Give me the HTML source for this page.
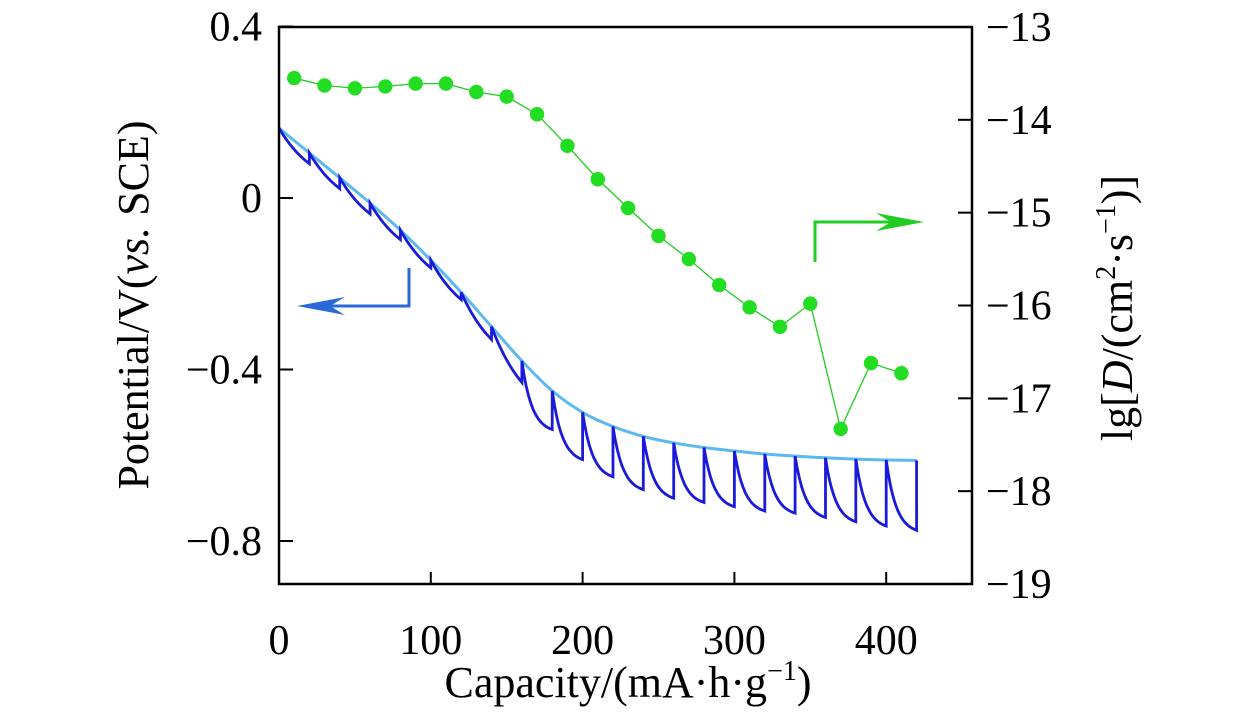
<!DOCTYPE html>
<html><head><meta charset="utf-8"><style>
html,body{margin:0;padding:0;background:#fff;}
svg text{font-family:"Liberation Serif",serif;fill:#000;}
</style></head><body>
<svg width="1260" height="709" viewBox="0 0 1260 709" xmlns="http://www.w3.org/2000/svg">
<g id="plot"></g>
</svg>
<script>
const capX = [10,30,50,70,90,110,130,150,170,190,210,230,250,270,290,310,330,350,370,390,410];
const logD = [-13.55,-13.63,-13.66,-13.64,-13.61,-13.61,-13.70,-13.75,-13.94,-14.28,-14.64,-14.95,-15.25,-15.50,-15.78,-16.02,-16.23,-15.98,-17.33,-16.62,-16.73];
const eqX = [0,20,40,60,80,100,120,140,160,180,200,220,240,260,280,300,320,340,360,380,400,420];
const eqV = [0.163,0.105,0.047,-0.012,-0.075,-0.145,-0.22,-0.30,-0.38,-0.45,-0.50,-0.533,-0.556,-0.571,-0.582,-0.59,-0.597,-0.602,-0.606,-0.609,-0.611,-0.612];
const minV = [null,0.08,0.022,-0.037,-0.097,-0.163,-0.237,-0.33,-0.43,-0.54,-0.61,-0.65,-0.68,-0.70,-0.71,-0.72,-0.73,-0.735,-0.745,-0.755,-0.765,-0.775];
const xTicks = [0,100,200,300,400];
const yLTicks = [0.4,0,-0.4,-0.8];
const yRTicks = [-13,-14,-15,-16,-17,-18,-19];

const L=279,R=972,T=27,B=584;
const X = v => L + v*1.518;
const YL = v => 198 - v*428.75;
const YR = v => T + (-13 - v)*92.83;
const NS="http://www.w3.org/2000/svg";
const g=document.getElementById('plot');
function mk(tag,attrs,name,parent){const e=document.createElementNS(NS,tag);for(const k in attrs)e.setAttribute(k,attrs[k]);


(parent||g).appendChild(e);return e;}
function txt(x,y,s,anchor,name,size,extra){const t=mk('text',Object.assign({x:x,y:y,'font-size':size,'text-anchor':anchor},extra||{}),name);t.textContent=s;return t;}

const pts=eqX.map((x,i)=>[X(x),YL(eqV[i])]);
let d='M'+pts[0][0]+' '+pts[0][1];
for(let i=0;i<pts.length-1;i++){const p0=pts[Math.max(0,i-1)],p1=pts[i],p2=pts[i+1],p3=pts[Math.min(pts.length-1,i+2)];
 d+='C'+(p1[0]+(p2[0]-p0[0])/6).toFixed(1)+' '+(p1[1]+(p2[1]-p0[1])/6).toFixed(1)+' '+(p2[0]-(p3[0]-p1[0])/6).toFixed(1)+' '+(p2[1]-(p3[1]-p1[1])/6).toFixed(1)+' '+p2[0].toFixed(1)+' '+p2[1].toFixed(1);}
mk('path',{d:d,fill:'none',stroke:'#5bb8f0','stroke-width':3},'equilibrium-potential-line');
let p='M'+X(0)+' '+YL(eqV[0]);
for(let i=1;i<eqX.length;i++){const s=eqV[i-1],m=minV[i];
 const k=i>=9?3:0.8;
 for(let j=1;j<=14;j++){const t=j/14;const f=(1-Math.exp(-k*t))/(1-Math.exp(-k));
  p+='L'+X(eqX[i-1]+20*t).toFixed(1)+' '+YL(s-(s-m)*f).toFixed(1);}
 p+='L'+X(eqX[i])+' '+YL(eqV[i]);}
mk('path',{d:p,fill:'none',stroke:'#1a1adc','stroke-width':2.8},'gitt-potential-line');
let q='';capX.forEach((x,i)=>{q+=(i?'L':'M')+X(x)+' '+YR(logD[i]);});
mk('path',{d:q,fill:'none',stroke:'#22cc22','stroke-width':1.3},'diffusion-line');
capX.forEach((x,i)=>{mk('circle',{cx:X(x),cy:YR(logD[i]),r:7.2,fill:'#22dd22'},'diffusion-point');});

mk('rect',{x:L,y:T,width:R-L,height:B-T,fill:'none',stroke:'#000','stroke-width':2.5},'plot-frame');
xTicks.forEach(v=>{mk('line',{x1:X(v),x2:X(v),y1:B,y2:B-12,stroke:'#000','stroke-width':2},'x-tick');txt(X(v),654,String(v),'middle','x-tick-label',42);});
yLTicks.forEach(v=>{mk('line',{x1:L,x2:L+14,y1:YL(v),y2:YL(v),stroke:'#000','stroke-width':2},'y-left-tick');
 txt(262,YL(v)+14,v===0?'0':(v<0?'\u2212':'')+Math.abs(v).toFixed(1),'end','y-left-tick-label',42);});
yRTicks.forEach(v=>{mk('line',{x1:R,x2:R-14,y1:YR(v),y2:YR(v),stroke:'#000','stroke-width':2},'y-right-tick');
 txt(986,YR(v)+14,'\u2212'+Math.abs(v),'start','y-right-tick-label',42);});

mk('path',{d:'M409 268 L409 306 L310 306',fill:'none',stroke:'#2a6ad8','stroke-width':3},'left-axis-arrow');
mk('path',{d:'M297 306 L345 297 L330 306 L345 315 Z',fill:'#2a6ad8'},'left-axis-arrowhead');
mk('path',{d:'M815 262 L815 222 L912 222',fill:'none',stroke:'#22cc22','stroke-width':3},'right-axis-arrow');
mk('path',{d:'M924 222 L876 213 L891 222 L876 231 Z',fill:'#22cc22'},'right-axis-arrowhead');

const xt=txt(628,697,'','middle','x-axis-title',44);
xt.innerHTML='Capacity/(mA\u00b7h\u00b7g<tspan font-size="28" dy="-17">\u22121</tspan><tspan dy="17">)</tspan>';
const yl=txt(0,0,'','middle','y-left-axis-title',44,{transform:'translate(148,305) rotate(-90)'});
yl.innerHTML='Potential/V(<tspan font-style="italic">vs.</tspan> SCE)';
const yr=txt(0,0,'','middle','y-right-axis-title',44,{transform:'translate(1132,308) rotate(-90)'});
yr.innerHTML='lg[<tspan font-style="italic">D</tspan>/(cm<tspan font-size="28" dy="-17">2</tspan><tspan dy="17">\u00b7s</tspan><tspan font-size="28" dy="-17">\u22121</tspan><tspan dy="17">)]</tspan>';
</script>
</body></html>
